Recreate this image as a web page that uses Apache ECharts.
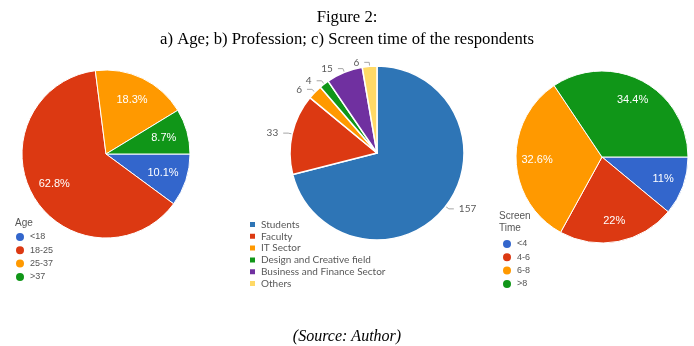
<!DOCTYPE html>
<html>
<head>
<meta charset="utf-8">
<script src="https://cdn.jsdelivr.net/npm/echarts@6/dist/echarts.min.js"></script>
<style>html,body{margin:0;padding:0;background:#fff;}#c{width:694px;height:346px;}</style>
</head>
<body>
<div id="c"></div>
<script>
// ---- data ----
var ageCategories = ['<18', '18-25', '25-37', '>37'];
var ageValues = [10.1, 62.8, 18.3, 8.7];
var professionCategories = ['Students', 'Faculty', 'IT Sector', 'Design and Creative field', 'Business and Finance Sector', 'Others'];
var professionValues = [157, 33, 6, 4, 15, 6];
var screenCategories = ['<4', '4-6', '6-8', '>8'];
var screenValues = [11, 22, 32.6, 34.4];

var googleColors = ['#3366cc', '#dc3912', '#ff9900', '#109618'];
var profColors = ['#2e75b6', '#dc3912', '#ff9900', '#109618', '#7030a0', '#ffd966'];

function mk(cats, vals) { return cats.map(function (c, i) { return { name: c, value: vals[i] }; }); }

var chart = echarts.init(document.getElementById('c'));
var pctLabel = { show: true, position: 'inside', color: '#fff', fontSize: 11, fontFamily: 'Liberation Sans, Arial', formatter: '{c}%' };

chart.setOption({
  animation: false,
  title: [
    { text: 'Figure 2:', left: 'center', top: 4, textStyle: { fontFamily: 'Liberation Serif', fontSize: 16.7, fontWeight: 'normal', color: '#000' } },
    { text: 'a) Age; b) Profession; c) Screen time of the respondents', left: 'center', top: 26, textStyle: { fontFamily: 'Liberation Serif', fontSize: 16.7, fontWeight: 'normal', color: '#000' } },
    { text: '(Source: Author)', left: 'center', top: 324, textStyle: { fontFamily: 'Liberation Serif', fontSize: 16, fontStyle: 'italic', fontWeight: 'normal', color: '#000' } },
    { text: 'Age', left: 10, top: 213, textStyle: { fontFamily: 'Liberation Sans', fontSize: 10, fontWeight: 'normal', color: '#555' } },
    { text: 'Screen\nTime', left: 494, top: 205, textStyle: { fontFamily: 'Liberation Sans', fontSize: 10, lineHeight: 12, fontWeight: 'normal', color: '#555' } }
  ],
  legend: [
    { orient: 'vertical', left: 14, top: 231, padding: 0, itemGap: 1.3, itemWidth: 10, itemHeight: 10, icon: 'circle', data: ageCategories,
      textStyle: { fontFamily: 'Liberation Sans', fontSize: 9, lineHeight: 12, color: '#555' } },
    { orient: 'vertical', left: 248, top: 219, padding: 0, itemGap: 0.8, itemWidth: 7, itemHeight: 7, icon: 'rect', data: professionCategories,
      textStyle: { fontFamily: 'Lato', fontSize: 10, lineHeight: 11, color: '#595959' } },
    { orient: 'vertical', left: 501, top: 238, padding: 0, itemGap: 1.3, itemWidth: 10, itemHeight: 10, icon: 'circle', data: screenCategories,
      textStyle: { fontFamily: 'Liberation Sans', fontSize: 9, lineHeight: 12, color: '#555' } }
  ],
  series: [
    { type: 'pie', center: [106, 154], radius: [0, 84], startAngle: 0, clockwise: true, color: googleColors,
      data: mk(ageCategories, ageValues), label: { show: false }, labelLine: { show: false },
      itemStyle: { borderColor: '#fff', borderWidth: 1 }, emphasis: { disabled: true }, silent: true },
    { type: 'pie', center: [377, 153], radius: [0, 87], startAngle: 90, clockwise: true, color: profColors,
      data: mk(professionCategories, professionValues),
      itemStyle: { borderColor: '#fff', borderWidth: 1.5 }, emphasis: { disabled: true }, silent: true,
      avoidLabelOverlap: false,
      label: { show: true, position: 'outside', formatter: '{c}', color: '#595959', fontSize: 10, fontFamily: 'Lato' },
      labelLine: { show: true, length: 4, length2: 5, lineStyle: { color: '#a6a6a6', width: 1 } } },
    { type: 'pie', center: [602, 157], radius: [0, 86], startAngle: 0, clockwise: true, color: googleColors,
      data: mk(screenCategories, screenValues), label: { show: false }, labelLine: { show: false },
      itemStyle: { borderColor: '#fff', borderWidth: 1 }, emphasis: { disabled: true }, silent: true },
    // label overlays (transparent)
    { type: 'pie', center: [106, 154], radius: [30, 84], startAngle: 0, clockwise: true,
      data: mk(ageCategories, ageValues), itemStyle: { color: 'rgba(0,0,0,0)' }, label: pctLabel, labelLine: { show: false },
      emphasis: { disabled: true }, silent: true },
    { type: 'pie', center: [602, 157], radius: [38, 86], startAngle: 0, clockwise: true,
      data: mk(screenCategories, screenValues), itemStyle: { color: 'rgba(0,0,0,0)' }, label: pctLabel, labelLine: { show: false },
      emphasis: { disabled: true }, silent: true }
  ]
});
</script>
</body>
</html>
